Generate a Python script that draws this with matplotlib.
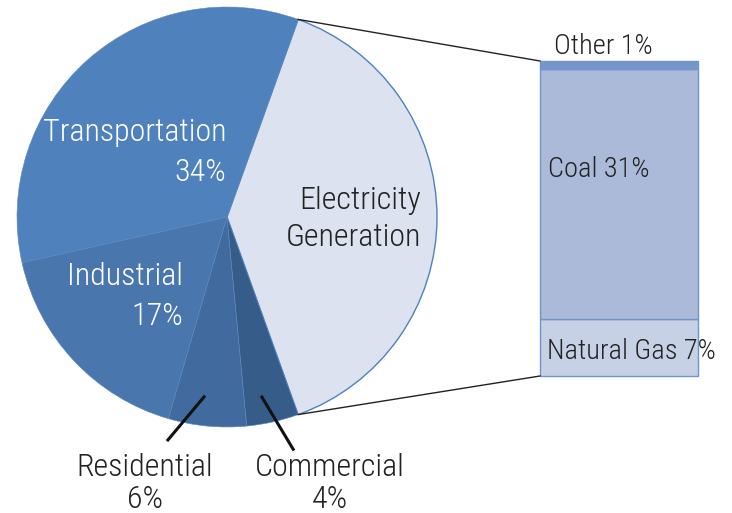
import numpy as np
import matplotlib.pyplot as plt

plt.rcParams['font.family'] = ['Roboto Condensed', 'DejaVu Sans']
plt.rcParams['font.weight'] = 300
fs_pie = 23
fs_bar = 20.5

# sector shares (%)
sectors = ['Electricity\nGeneration', 'Transportation', 'Industrial', 'Residential', 'Commercial']
shares = [39, 34, 17, 6, 4]
sector_colors = ['#dce2ef', '#4f81bd', '#4a76ae', '#416a9e', '#365c8a']

# electricity generation breakdown (%), bottom to top
fuels = ['Natural Gas', 'Coal', 'Other']
fuel_shares = [7, 31, 1]
fuel_colors = ['#c6d1e6', '#aabad8', '#7596c9']

fig = plt.figure(figsize=(7.32, 5.13), dpi=100)
ax = fig.add_axes([0, 0, 1, 1])

cx, cy, R = 227, 296, 210
start = -shares[0] / 100 * 360 / 2
wedges, _ = ax.pie(shares, colors=sector_colors, startangle=start, center=(cx, cy),
                   radius=R, counterclock=True, frame=True,
                   wedgeprops=dict(linewidth=0.4, edgecolor='#5b88c2'))
ax.set_xlim(0, 732)
ax.set_ylim(0, 513)
ax.set_aspect('equal')
ax.axis('off')
wedges[0].set_edgecolor('#4f81bd')
wedges[0].set_linewidth(1.0)

# stacked bar for electricity
bx0, bx1, btop, bbot = 540, 698, 61, 376   # pixel box (y from top)
scale = (bbot - btop) / sum(fuel_shares)
bottom = 513 - bbot
for v, c in zip(fuel_shares, fuel_colors):
    ax.bar((bx0 + bx1) / 2, v * scale, width=bx1 - bx0, bottom=bottom, color=c,
           edgecolor='#6f95cc', linewidth=1.0)
    bottom += v * scale

# connector lines
a1 = np.deg2rad(-start)
a2 = np.deg2rad(start)
ax.plot([cx + R * np.cos(a1), bx0], [cy + R * np.sin(a1), 513 - btop], color='#222222', lw=1.0)
ax.plot([cx + R * np.cos(a2), bx0], [cy + R * np.sin(a2), 513 - bbot], color='#222222', lw=1.0)

# labels inside pie
ax.text(226, 513 - 141, 'Transportation', ha='right', va='baseline', color='white', fontsize=fs_pie)
ax.text(226, 513 - 181, f'{shares[1]}%', ha='right', va='baseline', color='white', fontsize=fs_pie)
ax.text(183, 513 - 285, 'Industrial', ha='right', va='baseline', color='white', fontsize=fs_pie)
ax.text(183, 513 - 325, f'{shares[2]}%', ha='right', va='baseline', color='white', fontsize=fs_pie)
ax.text(421, 513 - 209, 'Electricity', ha='right', va='baseline', color='#222222', fontsize=fs_pie)
ax.text(421, 513 - 246, 'Generation', ha='right', va='baseline', color='#222222', fontsize=fs_pie)

# labels outside with leader lines
def leader(idx, off0, r0, off1, r1, tx, label):
    mid = start + sum(shares[:idx]) / 100 * 360 + shares[idx] / 100 * 360 / 2
    t0, t1 = np.deg2rad(mid + off0), np.deg2rad(mid + off1)
    ax.plot([cx + r0 * np.cos(t0), cx + r1 * np.cos(t1)],
            [cy + r0 * np.sin(t0), cy + r1 * np.sin(t1)],
            color='#111111', lw=2.2, solid_capstyle='butt')
    ax.text(tx, 513 - 476, label, ha='center', va='baseline', color='#222222', fontsize=fs_pie)
    ax.text(tx, 513 - 508, f'{shares[idx]}%', ha='center', va='baseline', color='#222222', fontsize=fs_pie)

leader(3, -1.6, 180, -9.6, 232, 145, 'Residential')
leader(4, -1.8, 182, 3.4, 243, 330, 'Commercial')

# bar labels
ax.text(603, 513 - 54, f'{fuels[2]} {fuel_shares[2]}%', ha='center', va='baseline', color='#222222', fontsize=fs_bar)
ax.text(548, 513 - 177, f'{fuels[1]} {fuel_shares[1]}%', ha='left', va='baseline', color='#222222', fontsize=fs_bar)
ax.text(547, 513 - 359, f'{fuels[0]} {fuel_shares[0]}%', ha='left', va='baseline', color='#222222', fontsize=fs_bar)

fig.savefig('out.png', dpi=100)
